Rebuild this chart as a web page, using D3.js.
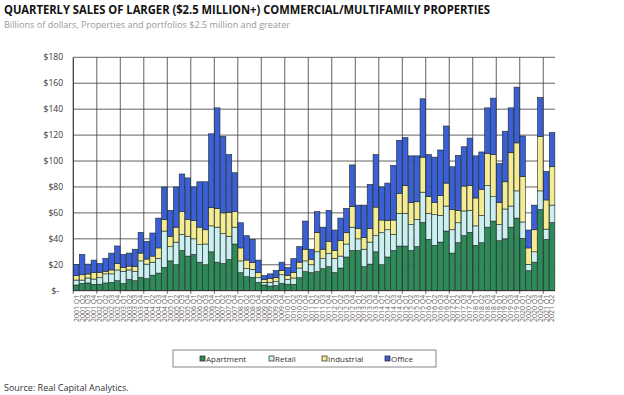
<!DOCTYPE html>
<html>
<head>
<meta charset="utf-8">
<script src="https://cdn.jsdelivr.net/npm/d3@7"></script>
<style>
  body { margin: 0; background: #fff; }
  svg { display: block; font-family: "Open Sans", "DejaVu Sans", sans-serif; }
</style>
</head>
<body>
<svg id="chart" width="624" height="395"></svg>
<script>
// quarters 2001 Q1 .. 2021 Q2
const years = d3.range(2001, 2022);
const quarters = years.flatMap((y) => [1, 2, 3, 4].map((q) => `${y} Q${q}`)).slice(0, 82);

// billions of dollars
const apartment = [
  4.4, 5.7, 6, 4.9, 5, 6, 6.4, 7.7, 5.6, 8.7, 7.7, 10.3, 9.3, 12, 13.6, 18,
  23, 20, 31, 26.7, 28, 22, 20, 30, 22, 21, 24, 36, 13.9, 10.8, 10.3, 6.4,
  4.4, 3.6, 4, 5.7, 5, 4.9, 10, 14.7, 14, 14.7, 17, 18.5, 14, 17.5, 26, 31,
  31, 18.5, 20.5, 30, 20, 26, 31, 34.4, 34.4, 31, 34, 52.7, 39.6, 35, 37.5, 46,
  29, 37, 42.5, 45, 35, 37, 49, 53.7, 38.6, 40, 49, 56, 40.4, 15.4, 22, 62.7,
  39.5, 52.5,
];
const retail = [
  3.8, 2.5, 3.8, 4.1, 5, 7, 6.6, 8.3, 9.4, 7.3, 7.3, 12.7, 11.2, 10, 11.4, 28,
  11, 17.5, 12.4, 15.3, 12, 13.5, 16, 20, 27, 23, 18, 13, 9.1, 6.2, 6.2, 3.6,
  2, 2.8, 3, 6.6, 3.7, 4.9, 7.5, 8.3, 6, 15.3, 7.7, 10.3, 11, 9.2, 10, 18,
  9, 13.5, 17, 12.4, 24.7, 21, 12.4, 25.2, 25.2, 20, 21, 23.3, 20, 23.6, 20.5, 19.3,
  18, 15.4, 19, 17, 15, 21, 32, 18.8, 12.4, 23, 16.3, 21, 12.6, 4.9, 8, 14.3,
  8, 13.5,
];
const industrial = [
  3.4, 4.1, 3.1, 5, 4, 2, 3, 5, 3, 3, 3.5, 6, 3.9, 4.7, 8, 9,
  8, 11.5, 17.6, 13, 14, 13.5, 11, 14, 14.5, 16, 18.5, 12, 10, 6.6, 5.1, 4,
  2.1, 2.9, 3, 3.4, 2.9, 4.2, 4.5, 9, 4, 15, 7.3, 9.2, 6, 12.1, 8.7, 16,
  8, 9, 10.5, 22.1, 9.8, 7, 11.1, 15.4, 21.4, 17, 13.6, 27, 12.9, 9.4, 15.5, 17.7,
  15.7, 9.6, 19.2, 19, 21.5, 20, 25, 32.5, 17, 21, 41.1, 37, 35, 12.7, 17, 41.8,
  22.5, 29.6,
];
const office = [
  8.7, 15.7, 7.6, 9.6, 7, 10, 13, 13.5, 10, 10, 13.5, 16, 13.6, 17.8, 23, 25,
  20, 31, 29, 32, 26, 35, 37, 57, 77.5, 59, 44.5, 30, 19.4, 18.8, 18, 9.6,
  3.1, 3.7, 5.7, 6.3, 6.4, 10.7, 12, 21.7, 8, 16, 17, 24, 15.8, 17.2, 18.8, 32,
  18, 25, 34, 40.5, 25.5, 29, 42.2, 41, 37, 36, 35.4, 45, 32.5, 35, 35, 44,
  32.9, 42.4, 30.3, 36.7, 32.5, 29, 35, 43.5, 30, 39, 34.6, 43, 31.3, 13.8, 19, 30.2,
  22, 26.4,
];
const seriesNames = ["Apartment", "Retail", "Industrial", "Office"];
const seriesColors = ["#2f8a5a", "#ccf0f2", "#f4eb94", "#3a5fd6"];
const yTicks = [0, 20, 40, 60, 80, 100, 120, 140, 160, 180];

const rows = quarters.map((q, i) => ({
  q,
  Apartment: apartment[i],
  Retail: retail[i],
  Industrial: industrial[i],
  Office: office[i],
}));

const svg = d3.select("#chart");

// title block
svg.append("text")
  .attr("x", 4).attr("y", 14)
  .attr("font-size", 12.5).attr("font-weight", 700).attr("fill", "#111")
  .attr("textLength", 486).attr("lengthAdjust", "spacingAndGlyphs")
  .text("QUARTERLY SALES OF LARGER ($2.5 MILLION+) COMMERCIAL/MULTIFAMILY PROPERTIES");
svg.append("text")
  .attr("x", 4).attr("y", 28)
  .attr("font-size", 9).attr("fill", "#999")
  .attr("textLength", 286).attr("lengthAdjust", "spacingAndGlyphs")
  .text("Billions of dollars, Properties and portfolios $2.5 million and greater");

const plot = { left: 73.3, right: 555, top: 57.3, bottom: 290.7 };

const x = d3.scaleBand().domain(quarters).range([plot.left, plot.right])
  .paddingInner(0.06).paddingOuter(0.03);
const y = d3.scaleLinear().domain([0, 180]).range([plot.bottom, plot.top]);
const color = d3.scaleOrdinal().domain(seriesNames).range(seriesColors);
const slot = (q) => x(q) - x.step() * x.paddingInner() / 2;

// grid
const grid = svg.append("g").attr("stroke", "#3a3a3a").attr("stroke-width", 0.8);
grid.selectAll("line.h").data(yTicks.slice(1)).join("line")
  .attr("class", "h")
  .attr("x1", plot.left).attr("x2", plot.right)
  .attr("y1", (d) => y(d)).attr("y2", (d) => y(d));
grid.selectAll("line.v").data(quarters.filter((q) => q.endsWith("Q1"))).join("line")
  .attr("class", "v")
  .attr("x1", (d) => slot(d)).attr("x2", (d) => slot(d))
  .attr("y1", plot.top).attr("y2", plot.bottom + 3);

// y axis labels
svg.append("g").selectAll("text").data(yTicks).join("text")
  .attr("x", (d) => (d === 0 ? 59 : 63))
  .attr("y", (d) => y(d) + 3)
  .attr("text-anchor", "end")
  .attr("font-size", 8.5).attr("fill", "#333")
  .text((d) => (d === 0 ? "$-" : `$${d}`));

// stacked bars
const stacked = d3.stack().keys(seriesNames)(rows);
svg.append("g").selectAll("g").data(stacked).join("g")
  .attr("fill", (d) => color(d.key))
  .selectAll("rect").data((d) => d).join("rect")
  .attr("x", (d) => x(d.data.q))
  .attr("width", x.bandwidth())
  .attr("y", (d) => y(d[1]))
  .attr("height", (d) => y(d[0]) - y(d[1]))
  .attr("stroke", "#1d2a24").attr("stroke-width", 0.6);

// axis lines
svg.append("line").attr("x1", plot.left).attr("x2", plot.left)
  .attr("y1", plot.top).attr("y2", plot.bottom)
  .attr("stroke", "#333").attr("stroke-width", 0.9);
svg.append("line").attr("x1", plot.left).attr("x2", plot.right)
  .attr("y1", plot.bottom).attr("y2", plot.bottom)
  .attr("stroke", "#333").attr("stroke-width", 0.9);

// x labels, every quarter, rotated
svg.append("g").selectAll("text").data(quarters).join("text")
  .attr("transform", (d) => `translate(${x(d) + x.bandwidth() / 2 + 2.4},${plot.bottom + 4}) rotate(-90)`)
  .attr("text-anchor", "end")
  .attr("font-size", 7).attr("fill", "#666")
  .text((d) => d);

// legend
const legend = svg.append("g");
legend.append("rect")
  .attr("x", 173).attr("y", 350).attr("width", 263).attr("height", 17)
  .attr("fill", "#fff").attr("stroke", "#6a6a6a").attr("stroke-width", 0.8);
const legendX = [200, 269, 322, 385];
const items = legend.selectAll("g").data(seriesNames).join("g")
  .attr("transform", (_, i) => `translate(${legendX[i]},358.5)`);
items.append("rect")
  .attr("x", 0).attr("y", -2.5).attr("width", 5).attr("height", 5)
  .attr("fill", (d) => color(d)).attr("stroke", "#222").attr("stroke-width", 0.7);
items.append("text")
  .attr("x", 6).attr("y", 3)
  .attr("font-size", 8).attr("fill", "#333")
  .text((d) => d);

// source
svg.append("text")
  .attr("x", 4).attr("y", 391)
  .attr("font-size", 9).attr("fill", "#333")
  .text("Source: Real Capital Analytics.");
</script>
</body>
</html>
